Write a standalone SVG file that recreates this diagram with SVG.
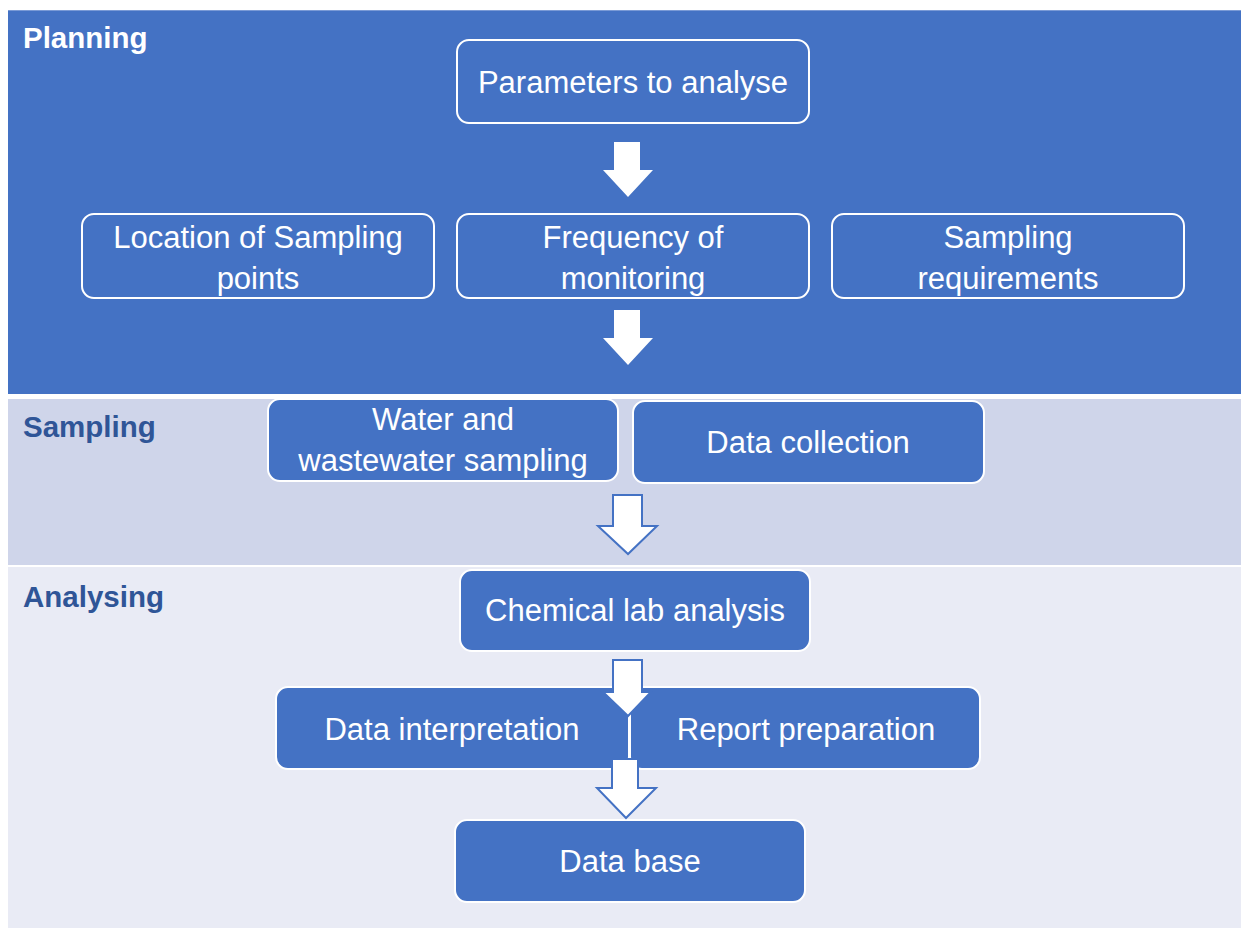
<svg xmlns="http://www.w3.org/2000/svg" width="1241" height="930" viewBox="0 0 1241 930">
<style>
.box{fill:#4472C4;stroke:#FFFFFF;stroke-width:2}
.t{font-family:"Liberation Sans",Arial,sans-serif;font-size:31px;fill:#FFFFFF;text-anchor:middle}
.h{font-family:"Liberation Sans",Arial,sans-serif;font-size:29.5px;font-weight:bold}
.solid{fill:#FFFFFF}
.outl{fill:#FFFFFF;stroke:#4472C4;stroke-width:2;stroke-linejoin:miter}
</style>
<rect x="0" y="0" width="1241" height="930" fill="#FFFFFF"/>
<g id="bands">
<rect x="8" y="10" width="1233" height="384" fill="#4472C4"/>
<line x1="8" y1="10.5" x2="1241" y2="10.5" stroke="#7A9AD6" stroke-width="1"/>
<rect x="8" y="399" width="1233" height="166" fill="#CFD5EA"/>
<rect x="8" y="567" width="1233" height="361" fill="#E9EBF5"/>
<text class="h" x="23" y="48" fill="#FFFFFF">Planning</text>
<text class="h" x="23" y="437" fill="#2F5597">Sampling</text>
<text class="h" x="23" y="607" fill="#2F5597">Analysing</text>
</g>
<g id="n-parameters">
<rect class="box" x="457" y="40" width="352" height="83" rx="12"/>
<text class="t" x="633" y="93">Parameters to analyse</text>
</g>
<g id="n-location">
<rect class="box" x="82" y="214" width="352" height="84" rx="12"/>
<text class="t" x="258" y="248">Location of Sampling</text>
<text class="t" x="258" y="289">points</text>
</g>
<g id="n-frequency">
<rect class="box" x="457" y="214" width="352" height="84" rx="12"/>
<text class="t" x="633" y="248">Frequency of</text>
<text class="t" x="633" y="289">monitoring</text>
</g>
<g id="n-requirements">
<rect class="box" x="832" y="214" width="352" height="84" rx="12"/>
<text class="t" x="1008" y="248">Sampling</text>
<text class="t" x="1008" y="289">requirements</text>
</g>
<g id="n-water">
<rect class="box" x="268" y="399" width="350" height="82" rx="12"/>
<text class="t" x="443" y="430">Water and</text>
<text class="t" x="443" y="471">wastewater sampling</text>
</g>
<g id="n-datacollection">
<rect class="box" x="633" y="401" width="351" height="82" rx="12"/>
<text class="t" x="808" y="453">Data collection</text>
</g>
<g id="n-chemical">
<rect class="box" x="460" y="570" width="350" height="81" rx="12"/>
<text class="t" x="635" y="621">Chemical lab analysis</text>
</g>
<g id="n-interpretation">
<rect class="box" x="276" y="687" width="353" height="82" rx="12"/>
<text class="t" x="452" y="740">Data interpretation</text>
</g>
<g id="n-report">
<rect class="box" x="630" y="687" width="350" height="82" rx="12"/>
<text class="t" x="806" y="740">Report preparation</text>
</g>
<g id="n-database">
<rect class="box" x="455" y="820" width="350" height="82" rx="12"/>
<text class="t" x="630" y="872">Data base</text>
</g>
<g id="connectors">
<polygon class="solid" points="614,142 640,142 640,170 653,170 628,197 603,170 614,170"/>
<polygon class="solid" points="614,310 640,310 640,338 653,338 628,365 603,338 614,338"/>
<polygon class="outl" points="613,495 642,495 642,526 657,526 628,554 598,526 613,526"/>
<polygon class="outl" points="613,660 642,660 642,692 651,692 628,716 603,692 613,692"/>
<polygon class="outl" points="612,759 638,759 638,788 656,788 626,818 597,788 612,788"/>
</g>
</svg>
